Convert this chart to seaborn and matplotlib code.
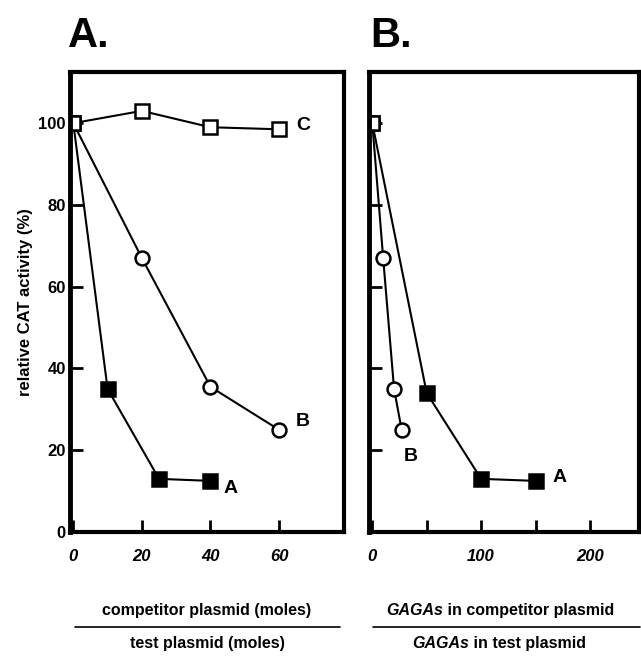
import matplotlib
matplotlib.use("Agg")
import matplotlib.pyplot as plt
import seaborn as sns
import pandas as pd
from matplotlib.lines import Line2D

# panel A: competitor / test plasmid (moles)
a_x_A = [0, 10, 25, 40]
a_y_A = [100, 35, 13, 12.5]
a_x_B = [0, 20, 40, 60]
a_y_B = [100, 67, 35.5, 25]
a_x_C = [0, 20, 40, 60]
a_y_C = [100, 103, 99, 98.5]

# panel B: GAGAs in competitor / GAGAs in test plasmid
b_x_A = [0, 50, 100, 150]
b_y_A = [100, 34, 13, 12.5]
b_x_B = [0, 10, 20, 27]
b_y_B = [100, 67, 35, 25]
b_x_C = [0]
b_y_C = [100]

a_xticks = [0, 20, 40, 60]
b_xticks = [0, 50, 100, 150, 200]
b_xticklabels = ["0", "", "100", "", "200"]
yticks = [0, 20, 40, 60, 80, 100]

sns.set_style("ticks")
plt.rcParams["font.family"] = ["Liberation Sans", "DejaVu Sans"]
plt.rcParams["font.weight"] = "bold"
plt.rcParams["text.color"] = "black"
plt.rcParams["axes.labelcolor"] = "black"
plt.rcParams["xtick.color"] = "black"
plt.rcParams["ytick.color"] = "black"

fig = plt.figure(figsize=(6.41, 6.58), dpi=100)
axA = fig.add_axes([0.109, 0.1915, 0.428, 0.699])
axB = fig.add_axes([0.5757, 0.1915, 0.421, 0.699])

line_kw = dict(color="black", linewidth=1.5, markersize=10, markeredgewidth=1.8,
               markeredgecolor="black")


def draw_series(ax, xs, ys, marker, filled):
    df = pd.DataFrame({"x": xs, "y": ys})
    sns.lineplot(data=df, x="x", y="y", ax=ax, marker=marker,
                 markerfacecolor="black" if filled else "white", **line_kw)


for ax in (axA, axB):
    for side in ("left", "right", "top", "bottom"):
        ax.spines[side].set_visible(True)
        ax.spines[side].set_linewidth(3)
        ax.spines[side].set_color("black")
    ax.spines["left"].set_linewidth(3.5)
    ax.set_ylim(0, 112.5)
    ax.set_yticks(yticks)
    ax.tick_params(axis="both", direction="in", length=9, width=2, color="black",
                   labelcolor="black")
    ax.tick_params(axis="x", pad=12)
    ax.tick_params(axis="y", pad=3)

draw_series(axA, a_x_A, a_y_A, "s", True)
draw_series(axA, a_x_B, a_y_B, "o", False)
draw_series(axA, a_x_C, a_y_C, "s", False)

draw_series(axB, b_x_A, b_y_A, "s", True)
draw_series(axB, b_x_B, b_y_B, "o", False)
draw_series(axB, b_x_C, b_y_C, "s", False)

axA.set_xlim(-1, 79)
axA.set_xticks(a_xticks)
axA.set_xticklabels([str(t) for t in a_xticks], fontsize=12, fontweight="bold",
                    fontstyle="italic")
axA.set_yticklabels([str(t) for t in yticks], fontsize=12, fontweight="bold")
axA.set_xlabel("")
axA.set_ylabel("relative CAT activity (%)", fontsize=12, fontweight="bold")
axA.yaxis.set_label_coords(-0.135, 0.5)

axB.set_xlim(-3, 245)
axB.set_xticks(b_xticks)
axB.set_xticklabels(b_xticklabels, fontsize=12, fontweight="bold", fontstyle="italic")
axB.set_yticklabels([])
axB.set_xlabel("")
axB.set_ylabel("")

lab_kw = dict(fontsize=14, fontweight="bold", ha="center", va="center")
axA.text(67, 99.5, "C", **lab_kw)
axA.text(67, 27, "B", **lab_kw)
axA.text(46, 10.7, "A", **lab_kw)
axB.text(35, 18.5, "B", **lab_kw)
axB.text(172, 13.4, "A", **lab_kw)

fig.text(0.106, 0.9286, "A.", fontsize=30, fontweight="heavy", ha="left", va="baseline")
fig.text(0.577, 0.9286, "B.", fontsize=30, fontweight="heavy", ha="left", va="baseline")

# fraction style x labels
fs = 11.5
top_y = 1 - 615 / 658
bot_y = 1 - 648 / 658
fig.text(207 / 641, top_y, "competitor plasmid (moles)", fontsize=fs,
         fontweight="bold", ha="center", va="baseline")
fig.text(207 / 641, bot_y, "test plasmid (moles)", fontsize=fs,
         fontweight="bold", ha="center", va="baseline")
fig.add_artist(Line2D([75 / 641, 340 / 641], [1 - 627 / 658, 1 - 627 / 658],
                      color="black", linewidth=1.2, transform=fig.transFigure))


def mixed_label(x0, y0, rest):
    t = fig.text(x0, y0, "GAGAs", fontsize=fs, fontweight="bold",
                 fontstyle="italic", ha="left", va="baseline")
    fig.canvas.draw()
    bb = t.get_window_extent()
    x1 = fig.transFigure.inverted().transform((bb.x1, bb.y0))[0]
    fig.text(x1, y0, rest, fontsize=fs, fontweight="bold", ha="left", va="baseline")


mixed_label(386 / 641, top_y, " in competitor plasmid")
mixed_label(412 / 641, bot_y, " in test plasmid")
fig.add_artist(Line2D([373 / 641, 640 / 641], [1 - 627 / 658, 1 - 627 / 658],
                      color="black", linewidth=1.2, transform=fig.transFigure))

fig.savefig("out.png", dpi=100)
